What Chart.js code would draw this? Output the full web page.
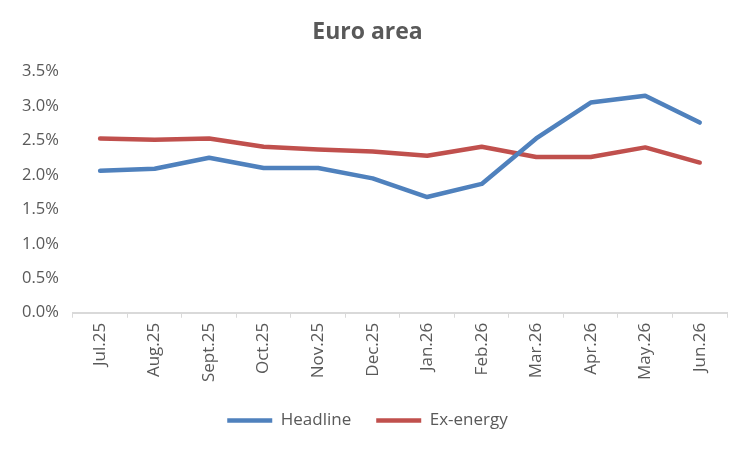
<!DOCTYPE html>
<html>
<head>
<meta charset="utf-8">
<script src="https://cdn.jsdelivr.net/npm/chart.js@4"></script>
<style>
  html, body { margin: 0; padding: 0; background: #fff; }
  #wrap { width: 749px; height: 450px; }
</style>
</head>
<body>
<div id="wrap"><canvas id="chart" width="749" height="450"></canvas></div>
<script>
// month labels on the x axis
const months = ["Jul.25", "Aug.25", "Sept.25", "Oct.25", "Nov.25", "Dec.25",
                "Jan.26", "Feb.26", "Mar.26", "Apr.26", "May.26", "Jun.26"];
// inflation, % y/y
const headline = [2.06, 2.09, 2.25, 2.10, 2.10, 1.95, 1.68, 1.87, 2.53, 3.05, 3.15, 2.76];
const exEnergy = [2.53, 2.51, 2.53, 2.41, 2.37, 2.34, 2.28, 2.41, 2.26, 2.26, 2.40, 2.18];
const yMin = 0, yMax = 3.5, yStep = 0.5;

const textColor = "#595959";
const axisColor = "#d9d9d9";
const font = "'Open Sans', 'Noto Sans', sans-serif";

const ctx = document.getElementById("chart").getContext("2d");
new Chart(ctx, {
  type: "line",
  data: {
    labels: months,
    datasets: [
      {
        label: "Headline",
        data: headline,
        borderColor: "#4f81bd",
        backgroundColor: "#4f81bd",
        borderWidth: 4.5,
        pointRadius: 0,
        tension: 0,
        borderCapStyle: "round",
        borderJoinStyle: "round",
      },
      {
        label: "Ex-energy",
        data: exEnergy,
        borderColor: "#c0504d",
        backgroundColor: "#c0504d",
        borderWidth: 4.5,
        pointRadius: 0,
        tension: 0,
        borderCapStyle: "round",
        borderJoinStyle: "round",
      },
    ],
  },
  options: {
    responsive: false,
    animation: false,
    layout: { padding: { left: 8, right: 22, top: 4, bottom: 11 } },
    plugins: {
      title: {
        display: true,
        text: "Euro area",
        color: textColor,
        font: { family: font, size: 23, weight: "bold" },
        padding: { top: 15, bottom: 25 },
      },
      legend: {
        position: "bottom",
        labels: {
          color: textColor,
          font: { family: font, size: 17 },
          usePointStyle: true,
          pointStyleWidth: 45,
          pointStyle: "line",
          boxHeight: 4,
          padding: 25,
        },
      },
      tooltip: { enabled: false },
    },
    scales: {
      x: {
        offset: true,
        grid: {
          display: true,
          drawOnChartArea: false,
          drawTicks: true,
          tickLength: 5,
          color: axisColor,
          offset: true,
        },
        border: { display: true, color: axisColor, width: 2 },
        ticks: {
          color: textColor,
          font: { family: font, size: 17 },
          minRotation: 90,
          maxRotation: 90,
          padding: 5,
        },
      },
      y: {
        min: yMin,
        max: yMax,
        grid: { display: false, drawTicks: false },
        border: { display: false },
        ticks: {
          stepSize: yStep,
          color: textColor,
          font: { family: font, size: 16.5 },
          padding: 14,
          callback: (v) => v.toFixed(1) + "%",
        },
      },
    },
  },
});
</script>
</body>
</html>
